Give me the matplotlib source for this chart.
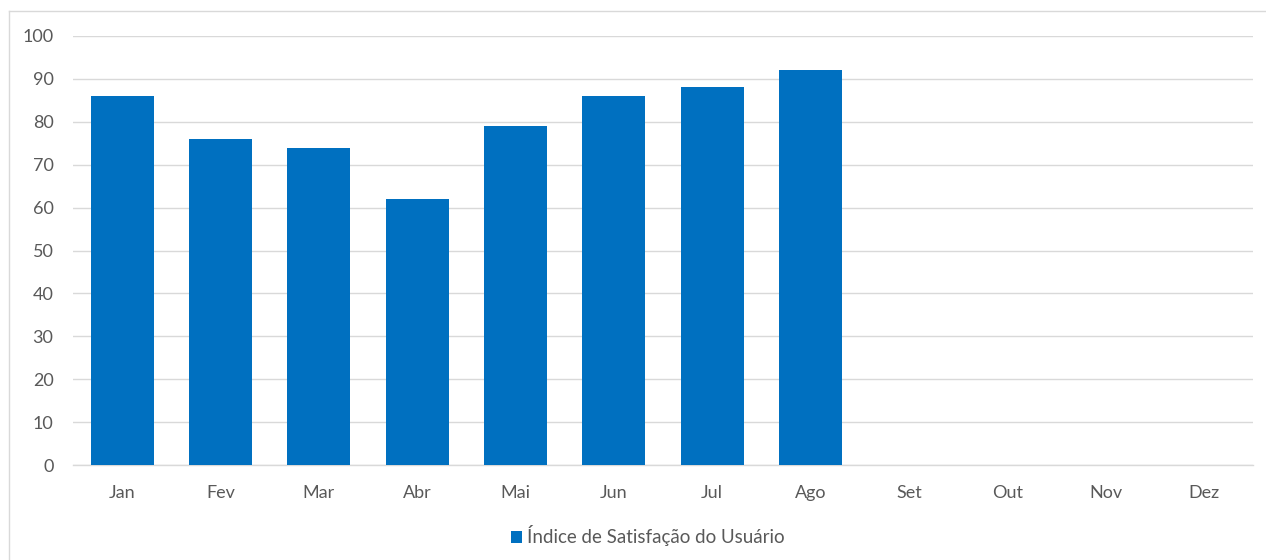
import matplotlib
matplotlib.use("Agg")
import matplotlib.pyplot as plt
from matplotlib.lines import Line2D
from matplotlib.patches import Patch

months = ["Jan", "Fev", "Mar", "Abr", "Mai", "Jun", "Jul", "Ago", "Set", "Out", "Nov", "Dez"]
values = [86, 76, 74, 62, 79, 86, 88, 92]
series_name = "Índice de Satisfação do Usuário"
yticks = list(range(0, 101, 10))

plt.rcParams['font.family'] = ['Lato', 'DejaVu Sans']
bar_color = "#0070C0"
text_color = "#595959"
grid_color = "#D9D9D9"

fig = plt.figure(figsize=(12.66, 5.6), dpi=100)
ax = fig.add_axes([73/1266, 1-465/560, (1253-73)/1266, (465-36)/560])

x = list(range(len(months)))
ax.bar(x[:len(values)], values, width=0.64, color=bar_color, zorder=3)
ax.set_xlim(-0.5, len(months) - 0.5)
ax.set_ylim(0, 100)
ax.set_yticks(yticks)
ax.set_xticks(x)
ax.set_xticklabels(months)
ax.tick_params(axis='both', length=0, colors=text_color, labelsize=13)
ax.tick_params(axis='x', pad=14.5)
ax.tick_params(axis='y', pad=14)
ax.grid(axis='y', color=grid_color, linewidth=1, zorder=0)
for s in ["top", "right", "left"]:
    ax.spines[s].set_visible(False)
ax.spines["bottom"].set_color(grid_color)
ax.spines["bottom"].set_linewidth(1)

handle = Patch(facecolor=bar_color, edgecolor='none')
fig.legend([handle], [series_name], loc='center', bbox_to_anchor=(648/1266, 1-536/560),
           frameon=False, fontsize=13.5, labelcolor=text_color,
           handlelength=0.6, handleheight=0.6, handletextpad=0.25)

# chart border (partial frame)
fig.add_artist(Line2D([9/1266, 9/1266], [0, 1-11/560], transform=fig.transFigure,
                      color=grid_color, linewidth=1))
fig.add_artist(Line2D([9/1266, 1], [1-11/560, 1-11/560], transform=fig.transFigure,
                      color=grid_color, linewidth=1))

fig.savefig("out.png", dpi=100, facecolor="white")
